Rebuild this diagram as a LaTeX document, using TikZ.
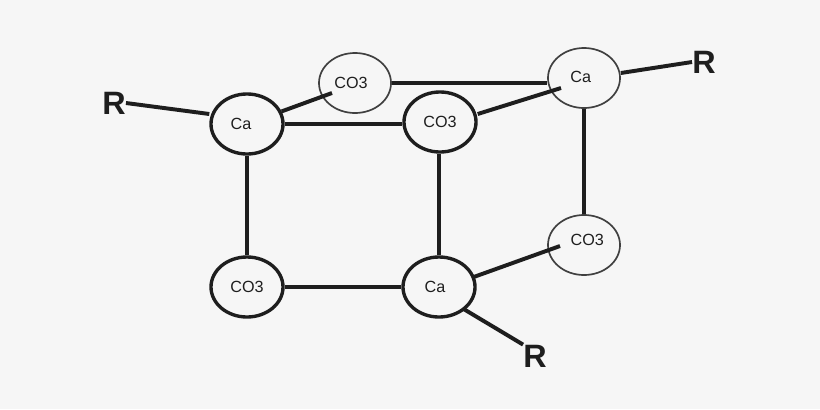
\documentclass[tikz,border=0pt]{standalone}
\usepackage{fontspec}
\setmainfont{Liberation Sans}
\usepackage{tikz}
\usetikzlibrary{shapes.geometric}
\definecolor{paper}{HTML}{F6F6F6}
\definecolor{ink}{HTML}{1E1E1E}
\tikzset{
 heavyatom/.style={ellipse, draw=ink, line width=2.4pt, minimum width=1.8cm, minimum height=1.5cm, inner sep=0pt},
 lightatom/.style={ellipse, draw=ink!85, line width=1.2pt, minimum width=1.8cm, minimum height=1.5cm, inner sep=0pt},
 atomtext/.style={text=ink, font=\fontsize{11.5}{12}\selectfont, inner sep=0pt},
 bond/.style={draw=ink, line width=2.3pt},
 rbond/.style={draw=ink, line width=2.8pt},
 rlabel/.style={text=ink, font=\fontsize{23}{24}\selectfont\bfseries, inner sep=0pt}
}
\begin{document}
\begin{tikzpicture}[x=0.025cm,y=-0.025cm]
 \fill[paper] (0,0) rectangle (820,409);
 \useasboundingbox (0,0) rectangle (820,409);
 \node[heavyatom, label={[atomtext, xshift=-0.15cm]center:Ca}] (caleft) at (247,124) {};
 \node[lightatom, label={[atomtext, xshift=-0.1cm]center:CO3}] (cotop) at (355,83) {};
 \node[heavyatom, label={[atomtext]center:CO3}] (comid) at (440,122) {};
 \node[lightatom, label={[atomtext, xshift=-0.08cm, yshift=0.03cm]center:Ca}] (caright) at (584,78) {};
 \node[lightatom, label={[atomtext, xshift=0.08cm, yshift=0.12cm]center:CO3}] (coright) at (584,245) {};
 \node[heavyatom, label={[atomtext]center:CO3}] (coleft) at (247,287) {};
 \node[heavyatom, label={[atomtext, xshift=-0.1cm]center:Ca}] (camid) at (439,287) {};
 \node[rlabel] (rleft) at (114,103) {R};
 \node[rlabel] (rright) at (704,62) {R};
 \node[rlabel] (rbottom) at (535,356) {R};
 \coordinate (cotopend) at (332,93);
 \coordinate (carightend) at (561,88);
 \coordinate (corightend) at (560,246);
 % cube edges
 \draw[bond] (caleft.east) -- (comid.west |- caleft.east);
 \draw[bond] (caleft) -- (coleft);
 \draw[bond] (camid.north) -- (camid.north |- comid.south);
 \draw[bond] (coleft) -- (camid);
 \draw[bond] (caright) -- (coright);
 \draw[bond] (cotop.east) -- (caright.west |- cotop.east);
 % bonds ending inside the circles
 \draw[rbond] (caleft.20) -- (cotopend);
 \draw[rbond] (comid.east) ++(0,-8) -- (carightend);
 \draw[rbond] (camid.east) ++(-3,-10) -- (corightend);
 % side groups
 \draw[rbond] (rleft.east) -- (caleft.west |- 0,114);
 \draw[rbond] (caright.east) ++(0,-5) -- (rright.west);
 \draw[rbond] (camid.south east) ++(-3,-1) -- (rbottom.north west);
\end{tikzpicture}
\end{document}
